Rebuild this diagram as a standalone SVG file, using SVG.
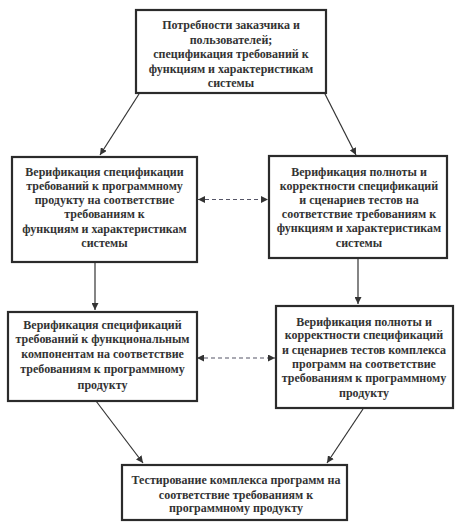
<svg xmlns="http://www.w3.org/2000/svg" width="460" height="531" viewBox="0 0 460 531">
<style>
.box{fill:#fff;stroke:#2b2b2b;stroke-width:2.2}
.t{font-family:"Liberation Serif","Times New Roman",serif;font-weight:bold;font-size:12px;fill:#333;text-anchor:middle}
.c{stroke:#333;stroke-width:1.2;fill:none}
.d{stroke:#556;stroke-width:1.1;fill:none;stroke-dasharray:4 3}
</style>
<defs>
<marker id="a" viewBox="0 0 10 10" refX="10" refY="5" markerWidth="7" markerHeight="7" markerUnits="userSpaceOnUse" orient="auto-start-reverse">
<path d="M0,0 L10,5 L0,10 z" fill="#333"/>
</marker>
</defs>
<rect width="460" height="531" fill="#fff"/>
<g id="connectors">
<line class="c" x1="139" y1="94" x2="100" y2="155" marker-end="url(#a)"/>
<line class="c" x1="325" y1="94" x2="356" y2="155" marker-end="url(#a)"/>
<line class="d" x1="198" y1="199.5" x2="268" y2="199.5" marker-start="url(#a)" marker-end="url(#a)"/>
<line class="c" x1="95" y1="262" x2="95" y2="310" marker-end="url(#a)"/>
<line class="c" x1="358" y1="258" x2="358" y2="304" marker-end="url(#a)"/>
<line class="d" x1="197" y1="358" x2="275" y2="358" marker-start="url(#a)" marker-end="url(#a)"/>
<line class="c" x1="96" y1="401" x2="143" y2="463" marker-end="url(#a)"/>
<line class="c" x1="363" y1="409" x2="327" y2="463" marker-end="url(#a)"/>
</g>
<g id="n1">
<rect class="box" x="136" y="10" width="190" height="83"/>
<text class="t" x="231" y="29">Потребности заказчика и</text>
<text class="t" x="231" y="44">пользователей;</text>
<text class="t" x="231" y="58">спецификация требований к</text>
<text class="t" x="231" y="73">функциям и характеристикам</text>
<text class="t" x="231" y="87">системы</text>
</g>
<g id="n2">
<rect class="box" x="12" y="157" width="185" height="105"/>
<text class="t" x="104.5" y="176">Верификация спецификации</text>
<text class="t" x="104.5" y="190">требований к программному</text>
<text class="t" x="104.5" y="204">продукту на соответствие</text>
<text class="t" x="104.5" y="218">требованиям к</text>
<text class="t" x="104.5" y="233">функциям и характеристикам</text>
<text class="t" x="104.5" y="247">системы</text>
</g>
<g id="n3">
<rect class="box" x="269" y="156" width="178" height="102"/>
<text class="t" x="359" y="176">Верификация полноты и</text>
<text class="t" x="359" y="190">корректности спецификаций</text>
<text class="t" x="359" y="204">и сценариев тестов на</text>
<text class="t" x="359" y="218">соответствие требованиям к</text>
<text class="t" x="359" y="232">функциям и характеристикам</text>
<text class="t" x="359" y="247">системы</text>
</g>
<g id="n4">
<rect class="box" x="8" y="312" width="189" height="89"/>
<text class="t" x="102.5" y="329">Верификация спецификаций</text>
<text class="t" x="102.5" y="343">требований к функциональным</text>
<text class="t" x="102.5" y="358">компонентам на соответствие</text>
<text class="t" x="102.5" y="373">требованиям к программному</text>
<text class="t" x="102.5" y="389">продукту</text>
</g>
<g id="n5">
<rect class="box" x="276" y="306" width="177" height="102"/>
<text class="t" x="364" y="326">Верификация полноты и</text>
<text class="t" x="364" y="339">корректности спецификаций</text>
<text class="t" x="364" y="354">и сценариев тестов комплекса</text>
<text class="t" x="364" y="368">программ на соответствие</text>
<text class="t" x="364" y="382">требованиям к программному</text>
<text class="t" x="364" y="397">продукту</text>
</g>
<g id="n6">
<rect class="box" x="122" y="465" width="225" height="55"/>
<text class="t" x="236" y="484">Тестирование комплекса программ на</text>
<text class="t" x="236" y="499">соответствие требованиям к</text>
<text class="t" x="236" y="512">программному продукту</text>
</g>
</svg>
